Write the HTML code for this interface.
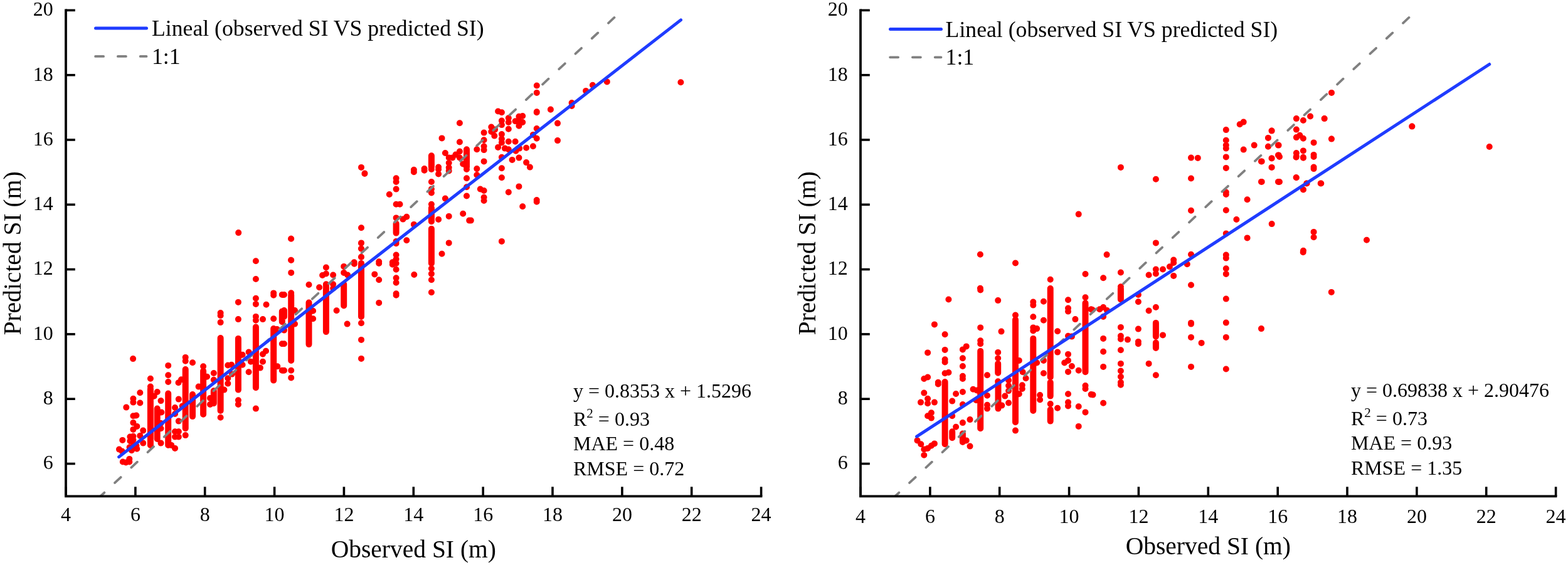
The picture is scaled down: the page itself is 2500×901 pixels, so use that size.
<!DOCTYPE html>
<html><head><meta charset="utf-8"><style>
html,body{margin:0;padding:0;background:#fff;}
svg{display:block;}
text{font-family:'Liberation Serif','Times New Roman',serif;fill:#000;}
</style></head><body>
<svg width="2500" height="901" viewBox="0 0 2500 901">
<rect width="2500" height="901" fill="#fff"/>
<path fill="none" stroke="#ff0000" stroke-width="10" stroke-linecap="round" d="M190.0 716.6h.01M194.6 719.6h.01M195.3 701.9h.01M195.8 736.5h.01M200.8 737.4h.01M206.3 731.9h.01M206.3 736.5h.01M201.3 649.6h.01M207.4 696.6h.01M207.4 703.2h.01M206.6 713.2h.01M209.9 718.2h.01M212.4 635.8h.01M212.4 641.6h.01M212.4 663.3h.01M212.4 674.1h.01M212.4 684.9h.01M217.4 662.5h.01M218.3 679.9h.01M212.4 695.7h.01M212.4 701.6h.01M213.3 709.9h.01M217.4 710.7h.01M218.3 715.7h.01M223.3 626.3h.01M223.3 642.5h.01M223.3 694.9h.01M228.2 686.6h.01M228.2 706.6h.01M245.7 631.7h.01M250.7 625.0h.01M256.5 639.1h.01M257.4 657.5h.01M256.5 706.6h.01M256.5 674.9h.01M256.5 683.3h.01M273.2 709.9h.01M279.0 714.9h.01M279.0 650.0h.01M279.0 660.0h.01M279.0 688.3h.01M279.0 696.6h.01M284.8 636.6h.01M284.8 671.6h.01M284.8 688.3h.01M284.8 696.6h.01M290.7 647.5h.01M295.7 694.1h.01M212.1 572.1h.01M239.9 603.7h.01M239.9 616.5h.01M268.2 582.9h.01M268.2 598.2h.01M268.2 609.0h.01M284.5 610.2h.01M289.0 605.2h.01M295.7 569.9h.01M295.7 575.7h.01M307.0 578.3h.01M324.1 584.2h.01M330.0 600.8h.01M316.6 616.6h.01M340.8 595.0h.01M340.8 605.8h.01M335.0 644.9h.01M335.0 634.9h.01M351.6 665.7h.01M357.4 621.6h.01M363.3 582.5h.01M369.1 581.7h.01M363.3 603.3h.01M363.3 611.6h.01M369.9 596.6h.01M379.9 638.3h.01M379.9 644.9h.01M386.6 581.7h.01M396.6 593.3h.01M399.9 576.7h.01M414.9 586.6h.01M419.0 576.7h.01M407.9 651.6h.01M442.3 584.2h.01M449.8 590.8h.01M351.6 499.1h.01M351.6 503.2h.01M351.6 514.1h.01M379.9 481.9h.01M379.9 509.1h.01M386.6 565.7h.01M407.9 445.0h.01M407.9 475.8h.01M407.9 484.9h.01M407.9 504.9h.01M407.9 510.7h.01M424.5 485.8h.01M419.0 509.1h.01M424.0 559.8h.01M419.0 564.8h.01M436.2 467.4h.01M436.2 470.8h.01M436.2 508.2h.01M441.5 524.9h.01M449.8 469.9h.01M449.8 548.2h.01M396.6 561.5h.01M453.0 470.0h.01M453.0 526.6h.01M453.0 548.2h.01M453.0 590.7h.01M470.0 495.0h.01M470.0 516.6h.01M464.2 590.7h.01M464.2 602.4h.01M499.1 495.8h.01M499.1 508.3h.01M536.6 495.3h.01M553.6 516.6h.01M576.0 515.3h.01M576.0 541.9h.01M576.0 571.9h.01M464.2 380.8h.01M464.2 414.9h.01M464.2 434.9h.01M464.2 467.3h.01M492.5 454.0h.01M509.1 458.2h.01M514.1 439.0h.01M519.9 426.5h.01M519.9 436.5h.01M531.1 438.5h.01M531.1 453.2h.01M531.1 459.8h.01M548.2 424.9h.01M548.2 434.9h.01M554.1 438.5h.01M564.9 420.7h.01M576.0 363.3h.01M576.0 387.4h.01M576.0 396.6h.01M576.0 409.9h.01M597.3 437.4h.01M604.2 420.0h.01M604.2 446.3h.01M604.2 482.9h.01M625.8 421.7h.01M631.6 420.0h.01M631.6 429.7h.01M631.6 443.3h.01M631.6 450.8h.01M631.6 468.3h.01M631.6 470.8h.01M660.3 438.0h.01M687.9 420.0h.01M687.9 428.3h.01M687.9 436.6h.01M687.9 446.3h.01M687.9 466.3h.01M659.9 274.2h.01M676.6 271.7h.01M687.9 270.0h.01M699.1 270.0h.01M699.1 277.5h.01M715.7 272.5h.01M744.0 270.0h.01M631.6 284.2h.01M631.6 290.0h.01M631.6 301.6h.01M620.8 310.0h.01M631.6 325.8h.01M637.5 325.8h.01M631.6 347.4h.01M642.5 349.6h.01M648.3 345.7h.01M631.6 384.9h.01M631.6 388.2h.01M648.3 383.2h.01M659.9 357.9h.01M631.6 406.5h.01M631.6 413.2h.01M625.8 418.2h.01M604.2 417.3h.01M687.9 290.0h.01M687.9 301.6h.01M687.9 307.5h.01M687.9 325.8h.01M699.1 349.9h.01M709.9 316.6h.01M715.7 344.9h.01M715.7 387.4h.01M704.5 404.8h.01M744.0 284.2h.01M744.0 298.3h.01M744.0 312.5h.01M738.2 340.8h.01M748.2 351.6h.01M771.6 320.0h.01M833.2 329.2h.01M855.7 321.7h.01M750.8 351.6h.01M799.9 384.9h.01M794.1 177.5h.01M799.9 179.2h.01M810.8 188.3h.01M810.8 195.0h.01M799.9 192.5h.01M799.9 199.1h.01M783.3 202.5h.01M783.3 210.0h.01M789.1 206.6h.01M788.3 216.6h.01M799.9 214.1h.01M799.9 221.6h.01M799.9 227.4h.01M810.8 205.8h.01M821.6 193.3h.01M827.4 185.8h.01M833.2 185.0h.01M833.2 195.0h.01M827.4 200.8h.01M827.4 192.5h.01M771.6 211.6h.01M771.6 223.3h.01M771.6 233.3h.01M771.6 239.1h.01M760.3 238.3h.01M794.1 234.9h.01M804.9 236.6h.01M810.8 238.3h.01M810.8 225.8h.01M821.6 225.8h.01M822.4 240.8h.01M828.2 236.6h.01M839.1 235.8h.01M849.9 233.3h.01M849.9 214.9h.01M855.7 205.0h.01M855.7 220.8h.01M855.7 179.2h.01M877.9 174.7h.01M889.0 196.6h.01M889.0 224.1h.01M771.6 257.4h.01M760.3 269.1h.01M760.3 279.0h.01M799.9 250.7h.01M799.9 268.2h.01M799.9 283.2h.01M816.6 254.9h.01M827.4 251.6h.01M839.1 259.1h.01M844.9 266.6h.01M765.8 301.5h.01M771.6 304.0h.01M771.6 314.8h.01M810.8 306.5h.01M827.4 297.4h.01M855.7 319.0h.01M732.9 196.2h.01M704.5 220.4h.01M732.9 226.5h.01M709.9 244.0h.01M715.7 251.5h.01M721.5 251.5h.01M726.5 246.5h.01M732.9 241.5h.01M732.9 251.5h.01M738.2 261.5h.01M699.1 266.5h.01M676.6 269.0h.01M659.9 270.7h.01M715.7 259.8h.01M715.7 267.3h.01M855.8 136.5h.01M855.8 147.9h.01M855.8 178.2h.01M877.9 174.5h.01M911.6 164.0h.01M911.6 169.0h.01M934.1 144.9h.01M944.9 135.7h.01M967.8 130.4h.01M1085.4 131.2h.01M380.2 371.1h.01M464.0 380.7h.01M464.0 414.8h.01M407.9 416.2h.01M581.4 277.0h.01M575.9 387.7h.01M575.9 396.5h.01M575.9 409.8h.01M564.7 418.2h.01M576.0 266.9h.01M581.5 276.5h.01M239.9 620.0V709.9M250.7 651.6V699.9M268.2 627.5V709.9M295.7 620.0V683.3M295.7 589.0V619.8M307.0 629.1V664.1M324.1 591.6V660.7M340.8 623.3V643.3M351.6 570.0V654.9M379.9 570.0V621.6M407.9 570.0V618.3M436.2 570.0V606.6M351.6 539.0V569.8M379.9 539.9V569.8M407.9 521.6V569.8M436.2 524.1V569.8M449.8 496.6V513.2M453.0 495.0V505.0M464.2 470.0V574.9M492.5 482.5V549.1M519.9 470.0V529.1M548.2 470.0V487.5M576.0 470.0V505.0M519.9 453.2V469.8M548.2 453.2V469.8M576.0 419.9V469.8M631.6 356.6V371.6M687.9 331.6V353.2M687.9 364.9V419.8M744.0 238.2V266.5M687.9 248.2V266.5"/>
<line x1="160.4" y1="791.1" x2="991.9" y2="16.4" stroke="#808080" stroke-width="3.8" stroke-dasharray="13 22.85" stroke-dashoffset="4.85" stroke-linecap="round"/>
<line x1="189.6" y1="728.6" x2="1085.5" y2="31.9" stroke="#1f3cff" stroke-width="5" stroke-linecap="round"/>
<path d="M105.0 14.6 V791.3 H1215.4" fill="none" stroke="#000" stroke-width="3.8"/>
<line x1="105.0" y1="739.5" x2="119.8" y2="739.5" stroke="#000" stroke-width="3.6"/>
<text x="84.7" y="748.3" text-anchor="end" font-size="32">6</text>
<line x1="105.0" y1="636.2" x2="119.8" y2="636.2" stroke="#000" stroke-width="3.6"/>
<text x="84.7" y="645.0" text-anchor="end" font-size="32">8</text>
<line x1="105.0" y1="532.9" x2="119.8" y2="532.9" stroke="#000" stroke-width="3.6"/>
<text x="84.7" y="541.7" text-anchor="end" font-size="32">10</text>
<line x1="105.0" y1="429.6" x2="119.8" y2="429.6" stroke="#000" stroke-width="3.6"/>
<text x="84.7" y="438.4" text-anchor="end" font-size="32">12</text>
<line x1="105.0" y1="326.3" x2="119.8" y2="326.3" stroke="#000" stroke-width="3.6"/>
<text x="84.7" y="335.1" text-anchor="end" font-size="32">14</text>
<line x1="105.0" y1="223.0" x2="119.8" y2="223.0" stroke="#000" stroke-width="3.6"/>
<text x="84.7" y="231.8" text-anchor="end" font-size="32">16</text>
<line x1="105.0" y1="119.7" x2="119.8" y2="119.7" stroke="#000" stroke-width="3.6"/>
<text x="84.7" y="128.5" text-anchor="end" font-size="32">18</text>
<line x1="105.0" y1="16.4" x2="119.8" y2="16.4" stroke="#000" stroke-width="3.6"/>
<text x="84.7" y="25.2" text-anchor="end" font-size="32">20</text>
<line x1="105.0" y1="791.3" x2="105.0" y2="776.3" stroke="#000" stroke-width="3.6"/>
<text x="105.0" y="830.5" text-anchor="middle" font-size="32">4</text>
<line x1="215.9" y1="791.3" x2="215.9" y2="776.3" stroke="#000" stroke-width="3.6"/>
<text x="215.9" y="830.5" text-anchor="middle" font-size="32">6</text>
<line x1="326.7" y1="791.3" x2="326.7" y2="776.3" stroke="#000" stroke-width="3.6"/>
<text x="326.7" y="830.5" text-anchor="middle" font-size="32">8</text>
<line x1="437.6" y1="791.3" x2="437.6" y2="776.3" stroke="#000" stroke-width="3.6"/>
<text x="437.6" y="830.5" text-anchor="middle" font-size="32">10</text>
<line x1="548.4" y1="791.3" x2="548.4" y2="776.3" stroke="#000" stroke-width="3.6"/>
<text x="548.4" y="830.5" text-anchor="middle" font-size="32">12</text>
<line x1="659.3" y1="791.3" x2="659.3" y2="776.3" stroke="#000" stroke-width="3.6"/>
<text x="659.3" y="830.5" text-anchor="middle" font-size="32">14</text>
<line x1="770.2" y1="791.3" x2="770.2" y2="776.3" stroke="#000" stroke-width="3.6"/>
<text x="770.2" y="830.5" text-anchor="middle" font-size="32">16</text>
<line x1="881.0" y1="791.3" x2="881.0" y2="776.3" stroke="#000" stroke-width="3.6"/>
<text x="881.0" y="830.5" text-anchor="middle" font-size="32">18</text>
<line x1="991.9" y1="791.3" x2="991.9" y2="776.3" stroke="#000" stroke-width="3.6"/>
<text x="991.9" y="830.5" text-anchor="middle" font-size="32">20</text>
<line x1="1102.7" y1="791.3" x2="1102.7" y2="776.3" stroke="#000" stroke-width="3.6"/>
<text x="1102.7" y="830.5" text-anchor="middle" font-size="32">22</text>
<line x1="1213.6" y1="791.3" x2="1213.6" y2="776.3" stroke="#000" stroke-width="3.6"/>
<text x="1213.6" y="830.5" text-anchor="middle" font-size="32">24</text>
<text x="659.3" y="888.6" text-anchor="middle" font-size="39.5">Observed SI (m)</text>
<text transform="translate(32.9,404) rotate(-90)" text-anchor="middle" font-size="39.5">Predicted SI (m)</text>
<line x1="152.5" y1="45.0" x2="233.5" y2="45.0" stroke="#1f3cff" stroke-width="5" stroke-linecap="round"/>
<line x1="152.1" y1="89.9" x2="233.5" y2="89.9" stroke="#808080" stroke-width="3.8" stroke-dasharray="13 22.8" stroke-linecap="round"/>
<text x="242.0" y="57.3" font-size="35.7">Lineal (observed SI VS predicted SI)</text>
<text x="242.0" y="101.7" font-size="35.7">1:1</text>
<text x="914.0" y="633.6" font-size="32">y = 0.8353 x + 1.5296</text>
<text x="914.0" y="679.0" font-size="32">R<tspan dy="-13" font-size="21">2</tspan><tspan dy="13"> = 0.93</tspan></text>
<text x="914.0" y="717.9" font-size="32">MAE = 0.48</text>
<text x="914.0" y="757.5" font-size="32">RMSE = 0.72</text>
<path fill="none" stroke="#ff0000" stroke-width="10" stroke-linecap="round" d="M1495.8 612.5h.01M1473.3 626.6h.01M1479.1 635.8h.01M1468.0 641.6h.01M1479.1 643.3h.01M1489.9 641.6h.01M1484.9 658.3h.01M1479.1 663.3h.01M1484.9 666.6h.01M1524.1 628.0h.01M1534.9 625.0h.01M1518.2 639.6h.01M1534.9 645.0h.01M1518.2 663.3h.01M1524.1 680.8h.01M1534.9 674.1h.01M1546.5 669.1h.01M1540.7 702.4h.01M1546.5 711.6h.01M1462.5 702.4h.01M1468.3 708.2h.01M1473.3 716.5h.01M1479.1 714.9h.01M1484.9 710.7h.01M1489.9 707.4h.01M1473.3 725.7h.01M1551.5 620.8h.01M1557.4 622.5h.01M1574.0 630.8h.01M1574.0 645.8h.01M1574.0 651.6h.01M1556.5 638.3h.01M1597.3 646.6h.01M1602.3 631.6h.01M1608.1 615.0h.01M1608.1 623.3h.01M1608.1 642.5h.01M1619.0 686.6h.01M1624.8 628.3h.01M1629.8 614.2h.01M1629.8 620.0h.01M1658.1 630.0h.01M1658.1 637.5h.01M1674.7 644.1h.01M1686.1 650.8h.01M1703.0 628.3h.01M1703.0 641.6h.01M1703.0 647.5h.01M1719.7 648.3h.01M1719.7 679.9h.01M1730.5 615.0h.01M1730.5 620.0h.01M1730.5 657.4h.01M1739.7 629.1h.01M1786.9 613.7h.01M1742.5 629.6h.01M1759.1 642.8h.01M1512.4 477.5h.01M1489.9 517.4h.01M1506.6 533.3h.01M1479.1 562.4h.01M1506.6 557.9h.01M1506.6 573.2h.01M1506.6 577.4h.01M1506.6 595.2h.01M1512.4 594.0h.01M1473.3 604.0h.01M1479.1 601.5h.01M1495.8 609.8h.01M1506.6 609.0h.01M1534.9 557.4h.01M1540.7 552.4h.01M1534.9 571.2h.01M1534.9 584.0h.01M1534.9 599.8h.01M1534.9 604.0h.01M1563.2 462.5h.01M1563.2 522.4h.01M1563.2 543.2h.01M1563.2 548.2h.01M1574.0 598.2h.01M1591.2 479.1h.01M1596.5 528.6h.01M1591.2 561.9h.01M1591.2 571.2h.01M1591.2 608.2h.01M1619.0 502.5h.01M1624.8 574.9h.01M1630.6 593.2h.01M1608.1 606.5h.01M1647.3 481.6h.01M1647.3 486.6h.01M1647.3 505.3h.01M1647.3 522.4h.01M1653.1 524.1h.01M1647.3 527.4h.01M1653.1 578.5h.01M1635.6 603.2h.01M1663.9 480.8h.01M1663.9 510.8h.01M1663.9 574.9h.01M1663.9 595.2h.01M1674.7 609.8h.01M1686.1 528.3h.01M1686.1 561.6h.01M1703.0 478.3h.01M1703.0 491.6h.01M1703.0 496.6h.01M1714.4 509.1h.01M1703.0 535.7h.01M1708.9 536.6h.01M1703.0 564.9h.01M1703.0 574.9h.01M1697.2 578.5h.01M1708.9 584.0h.01M1703.0 592.9h.01M1719.7 590.7h.01M1730.5 474.2h.01M1739.7 493.3h.01M1741.7 494.1h.01M1753.3 493.3h.01M1759.1 490.0h.01M1765.0 495.0h.01M1759.1 504.9h.01M1786.9 521.9h.01M1786.9 535.7h.01M1786.9 540.7h.01M1797.9 541.6h.01M1786.9 558.2h.01M1786.9 579.9h.01M1786.9 591.5h.01M1786.9 600.7h.01M1786.9 609.8h.01M1814.9 470.0h.01M1814.9 481.3h.01M1814.9 524.6h.01M1814.9 544.9h.01M1814.9 548.2h.01M1831.6 495.5h.01M1842.9 490.0h.01M1854.0 534.4h.01M1831.6 579.9h.01M1842.9 598.2h.01M1759.1 539.9h.01M1759.1 560.7h.01M1759.1 584.9h.01M1899.0 514.9h.01M1899.0 516.6h.01M1899.0 537.9h.01M1915.6 546.9h.01M1899.0 584.9h.01M1954.8 476.6h.01M1954.8 514.6h.01M1954.8 537.9h.01M1954.8 588.5h.01M2011.0 524.1h.01M2077.7 402.2h.01M2122.8 465.9h.01M1719.7 341.6h.01M1562.9 405.7h.01M1619.0 419.5h.01M1674.7 445.7h.01M1730.5 437.0h.01M1562.9 459.8h.01M1674.7 460.7h.01M1954.8 310.0h.01M1988.6 318.3h.01M1899.0 335.8h.01M1954.8 335.3h.01M1971.4 350.0h.01M2027.7 357.1h.01M1954.8 372.4h.01M1988.6 379.4h.01M1842.9 387.4h.01M1764.6 406.1h.01M1899.0 405.7h.01M1871.2 414.5h.01M1871.2 419.0h.01M1864.9 425.2h.01M1892.8 421.2h.01M1842.9 429.5h.01M1854.0 429.5h.01M1842.9 436.5h.01M1831.6 438.5h.01M1871.2 439.9h.01M1786.9 434.5h.01M1759.1 443.2h.01M1786.9 457.3h.01M1899.0 454.5h.01M1954.8 406.6h.01M1954.8 411.6h.01M1954.8 428.2h.01M1954.8 436.9h.01M2040.0 250.0h.01M2066.6 250.8h.01M2078.0 251.7h.01M2094.6 250.0h.01M2094.6 266.6h.01M2094.6 269.1h.01M2066.6 283.0h.01M2040.0 290.0h.01M2083.6 292.5h.01M2106.3 292.5h.01M2078.0 302.4h.01M2094.6 369.9h.01M2094.6 378.2h.01M2179.0 382.7h.01M2078.0 399.8h.01M1786.9 266.9h.01M1842.9 285.7h.01M1899.0 251.6h.01M1909.8 251.9h.01M1899.0 284.5h.01M1954.8 207.1h.01M1954.8 223.8h.01M1954.8 231.6h.01M1954.8 236.6h.01M1954.8 250.4h.01M1954.8 267.9h.01M1954.8 306.5h.01M1976.7 198.3h.01M1982.7 194.6h.01M1982.7 238.6h.01M1999.7 231.6h.01M2027.7 208.6h.01M2021.9 219.9h.01M2021.9 233.8h.01M2038.0 231.6h.01M2038.0 247.4h.01M2027.7 252.4h.01M2011.0 257.4h.01M2027.7 266.9h.01M2011.0 289.9h.01M2038.0 289.9h.01M2027.5 208.6h.01M2022.0 219.9h.01M2022.0 233.8h.01M2038.6 231.6h.01M2038.6 247.4h.01M2027.5 252.4h.01M2011.7 257.4h.01M2027.5 266.9h.01M2011.7 289.9h.01M2038.6 289.9h.01M2066.9 189.1h.01M2077.9 192.0h.01M2089.1 185.5h.01M2111.6 189.1h.01M2066.9 206.6h.01M2072.4 215.8h.01M2066.9 219.1h.01M2077.9 220.8h.01M2094.6 227.4h.01M2122.9 221.6h.01M2077.9 240.4h.01M2066.9 244.1h.01M2066.9 249.6h.01M2077.9 250.7h.01M2094.6 246.9h.01M2094.6 266.5h.01M2094.6 269.0h.01M2066.9 283.2h.01M2083.3 292.4h.01M2077.9 302.3h.01M2105.7 292.4h.01M2251.4 201.6h.01M2123.0 147.9h.01M2111.7 189.1h.01M2123.0 221.5h.01M2251.2 201.6h.01M2374.7 234.0h.01M1506.6 610.0V708.2M1518.2 688.2V698.2M1534.9 691.6V704.9M1563.2 610.0V683.3M1591.5 610.0V651.6M1619.0 610.0V673.3M1647.3 610.0V654.9M1674.7 610.0V631.6M1674.7 653.3V671.6M1563.2 559.9V609.8M1591.2 579.9V594.8M1619.0 509.9V609.8M1647.3 539.9V609.8M1674.7 460.0V601.5M1730.5 483.3V593.2M1786.9 460.0V477.5M1842.9 514.9V536.6M1842.9 546.6V554.9"/>
<line x1="1427.4" y1="791.1" x2="2258.9" y2="16.4" stroke="#808080" stroke-width="3.8" stroke-dasharray="13 22.85" stroke-dashoffset="4.85" stroke-linecap="round"/>
<line x1="1461.6" y1="696.2" x2="2374.7" y2="102.5" stroke="#1f3cff" stroke-width="5" stroke-linecap="round"/>
<path d="M1372.0 14.6 V791.3 H2482.4" fill="none" stroke="#000" stroke-width="3.8"/>
<line x1="1372.0" y1="739.5" x2="1386.8" y2="739.5" stroke="#000" stroke-width="3.6"/>
<text x="1351.7" y="748.3" text-anchor="end" font-size="32">6</text>
<line x1="1372.0" y1="636.2" x2="1386.8" y2="636.2" stroke="#000" stroke-width="3.6"/>
<text x="1351.7" y="645.0" text-anchor="end" font-size="32">8</text>
<line x1="1372.0" y1="532.9" x2="1386.8" y2="532.9" stroke="#000" stroke-width="3.6"/>
<text x="1351.7" y="541.7" text-anchor="end" font-size="32">10</text>
<line x1="1372.0" y1="429.6" x2="1386.8" y2="429.6" stroke="#000" stroke-width="3.6"/>
<text x="1351.7" y="438.4" text-anchor="end" font-size="32">12</text>
<line x1="1372.0" y1="326.3" x2="1386.8" y2="326.3" stroke="#000" stroke-width="3.6"/>
<text x="1351.7" y="335.1" text-anchor="end" font-size="32">14</text>
<line x1="1372.0" y1="223.0" x2="1386.8" y2="223.0" stroke="#000" stroke-width="3.6"/>
<text x="1351.7" y="231.8" text-anchor="end" font-size="32">16</text>
<line x1="1372.0" y1="119.7" x2="1386.8" y2="119.7" stroke="#000" stroke-width="3.6"/>
<text x="1351.7" y="128.5" text-anchor="end" font-size="32">18</text>
<line x1="1372.0" y1="16.4" x2="1386.8" y2="16.4" stroke="#000" stroke-width="3.6"/>
<text x="1351.7" y="25.2" text-anchor="end" font-size="32">20</text>
<line x1="1372.0" y1="791.3" x2="1372.0" y2="776.3" stroke="#000" stroke-width="3.6"/>
<text x="1372.0" y="834.1" text-anchor="middle" font-size="32">4</text>
<line x1="1482.9" y1="791.3" x2="1482.9" y2="776.3" stroke="#000" stroke-width="3.6"/>
<text x="1482.9" y="834.1" text-anchor="middle" font-size="32">6</text>
<line x1="1593.7" y1="791.3" x2="1593.7" y2="776.3" stroke="#000" stroke-width="3.6"/>
<text x="1593.7" y="834.1" text-anchor="middle" font-size="32">8</text>
<line x1="1704.6" y1="791.3" x2="1704.6" y2="776.3" stroke="#000" stroke-width="3.6"/>
<text x="1704.6" y="834.1" text-anchor="middle" font-size="32">10</text>
<line x1="1815.4" y1="791.3" x2="1815.4" y2="776.3" stroke="#000" stroke-width="3.6"/>
<text x="1815.4" y="834.1" text-anchor="middle" font-size="32">12</text>
<line x1="1926.3" y1="791.3" x2="1926.3" y2="776.3" stroke="#000" stroke-width="3.6"/>
<text x="1926.3" y="834.1" text-anchor="middle" font-size="32">14</text>
<line x1="2037.2" y1="791.3" x2="2037.2" y2="776.3" stroke="#000" stroke-width="3.6"/>
<text x="2037.2" y="834.1" text-anchor="middle" font-size="32">16</text>
<line x1="2148.0" y1="791.3" x2="2148.0" y2="776.3" stroke="#000" stroke-width="3.6"/>
<text x="2148.0" y="834.1" text-anchor="middle" font-size="32">18</text>
<line x1="2258.9" y1="791.3" x2="2258.9" y2="776.3" stroke="#000" stroke-width="3.6"/>
<text x="2258.9" y="834.1" text-anchor="middle" font-size="32">20</text>
<line x1="2369.7" y1="791.3" x2="2369.7" y2="776.3" stroke="#000" stroke-width="3.6"/>
<text x="2369.7" y="834.1" text-anchor="middle" font-size="32">22</text>
<line x1="2480.6" y1="791.3" x2="2480.6" y2="776.3" stroke="#000" stroke-width="3.6"/>
<text x="2480.6" y="834.1" text-anchor="middle" font-size="32">24</text>
<text x="1926.3" y="884.2" text-anchor="middle" font-size="39.5">Observed SI (m)</text>
<text transform="translate(1299.9,404) rotate(-90)" text-anchor="middle" font-size="39.5">Predicted SI (m)</text>
<line x1="1419.5" y1="46.4" x2="1500.5" y2="46.4" stroke="#1f3cff" stroke-width="5" stroke-linecap="round"/>
<line x1="1419.1" y1="91.3" x2="1500.5" y2="91.3" stroke="#808080" stroke-width="3.8" stroke-dasharray="13 22.8" stroke-linecap="round"/>
<text x="1507.6" y="58.7" font-size="35.7">Lineal (observed SI VS predicted SI)</text>
<text x="1507.6" y="103.1" font-size="35.7">1:1</text>
<text x="2154.0" y="632.8" font-size="32">y = 0.69838 x + 2.90476</text>
<text x="2154.0" y="678.2" font-size="32">R<tspan dy="-13" font-size="21">2</tspan><tspan dy="13"> = 0.73</tspan></text>
<text x="2154.0" y="717.1" font-size="32">MAE = 0.93</text>
<text x="2154.0" y="756.7" font-size="32">RMSE = 1.35</text>
</svg>
</body></html>
